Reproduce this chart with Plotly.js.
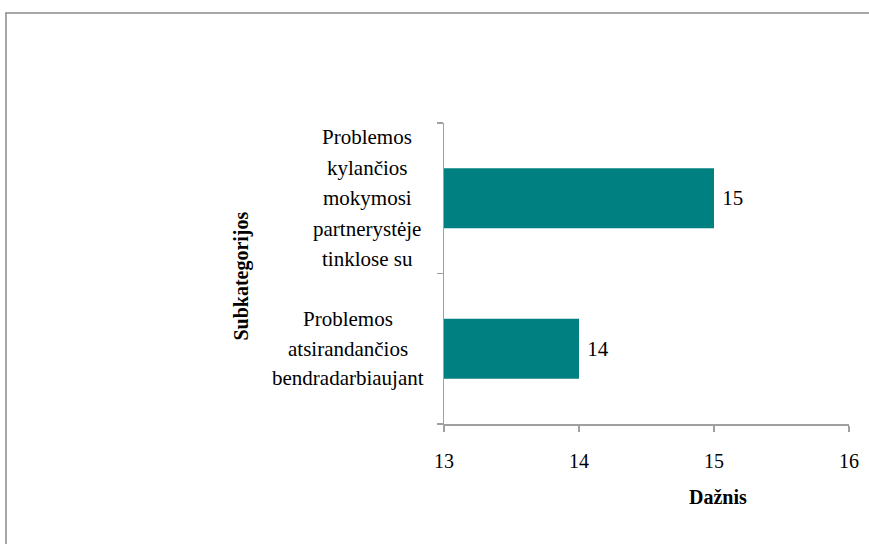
<!DOCTYPE html>
<html>
<head>
<meta charset="utf-8">
<script src="https://cdn.plot.ly/plotly-3.0.1.min.js"></script>
<style>html,body{margin:0;padding:0;background:#fff}#chart{width:869px;height:544px}</style>
</head>
<body>
<div id="chart"></div>
<script>
// Data
const categoryLines = [
  ["Problemos", "atsirandančios", "bendradarbiaujant"],
  ["Problemos", "kylančios", "mokymosi", "partnerystėje", "tinklose su"]
];
const categories = categoryLines.map(l => l.join(" "));
const values = [14, 15];
const xTicks = [13, 14, 15, 16];
const xTitle = "Dažnis";
const yTitle = "Subkategorijos";

const FONT = "Liberation Serif";
const AXIS = "#a0a0a0";
const labelCenters = [-0.237, -0.19];   // paper-x centre of each category label block

const trace = {
  type: "bar",
  orientation: "h",
  y: categories,
  x: values,
  base: 0,
  marker: {color: "#008080"},
  text: values.map(v => "\u00a0" + v),
  textposition: "outside",
  cliponaxis: false,
  textfont: {family: FONT, size: 21, color: "#000"},
  hoverinfo: "none"
};

const annotations = [];
categoryLines.forEach((lines, ci) => {
  const n = lines.length;
  const spacing = n > 3 ? 30.5 : 29.5;
  lines.forEach((ln, i) => {
    annotations.push({
      xref: "paper", yref: "y",
      x: labelCenters[ci], y: categories[ci],
      xanchor: "center", yanchor: "middle",
      yshift: ((n - 1) / 2 - i) * spacing,
      text: ln, showarrow: false,
      font: {family: FONT, size: 21, color: "#000"}
    });
  });
});
annotations.push({
  xref: "paper", yref: "paper", x: -0.501, y: 0.49,
  xanchor: "center", yanchor: "middle", textangle: -90,
  text: "<b>" + yTitle + "</b>", showarrow: false,
  font: {family: FONT, size: 20, color: "#000"}
});
annotations.push({
  xref: "paper", yref: "paper", x: 0.6765, y: -0.2425,
  xanchor: "center", yanchor: "middle",
  text: "<b>" + xTitle + "</b>", showarrow: false,
  font: {family: FONT, size: 20, color: "#000"}
});

const layout = {
  width: 869, height: 544,
  margin: {l: 444, r: 20, t: 123, b: 120},
  paper_bgcolor: "#fff", plot_bgcolor: "#fff",
  showlegend: false,
  bargap: 0.6,
  font: {family: FONT, size: 20, color: "#000"},
  xaxis: {
    range: [13, 16], tickvals: xTicks, ticktext: xTicks.map(String),
    showgrid: false, zeroline: false,
    showline: true, linecolor: AXIS, linewidth: 1.5,
    ticks: "outside", ticklen: 6, tickcolor: AXIS, tickwidth: 1.5,
    ticklabelstandoff: 12,
    tickfont: {family: FONT, size: 20, color: "#000"},
    fixedrange: true
  },
  yaxis: {
    type: "category", categoryorder: "array", categoryarray: categories,
    range: [-0.5, 1.5],
    showticklabels: false, tickson: "boundaries",
    showgrid: false, zeroline: false,
    showline: true, linecolor: AXIS, linewidth: 1.5,
    ticks: "outside", ticklen: 6, tickcolor: AXIS, tickwidth: 1.5,
    fixedrange: true
  },
  annotations: annotations,
  shapes: [{
    type: "rect", xref: "paper", yref: "paper",
    x0: -1.0815, x1: 1.5, y0: -1.5, y1: 1.3654,
    line: {color: "#8a8a8a", width: 1.5}, fillcolor: "rgba(0,0,0,0)", layer: "below"
  }]
};

Plotly.newPlot("chart", [trace], layout, {displayModeBar: false, staticPlot: true});
</script>
</body>
</html>
